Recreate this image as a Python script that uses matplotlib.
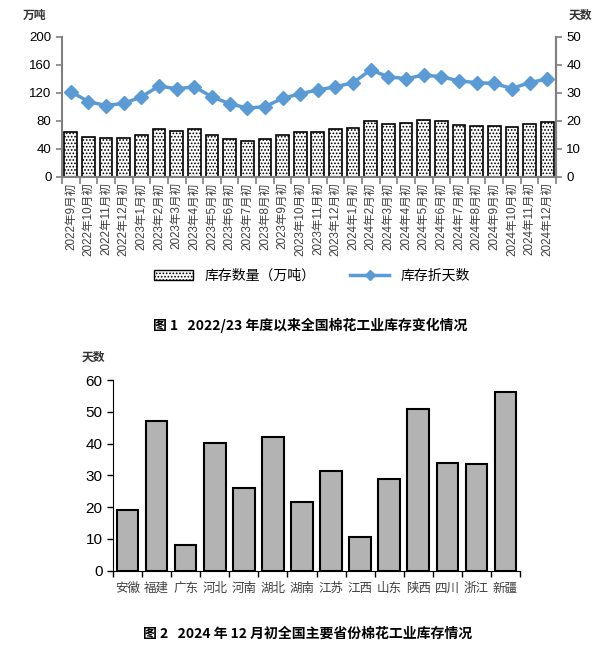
import matplotlib
matplotlib.use("Agg")
import matplotlib.pyplot as plt
from matplotlib.patches import Patch
from matplotlib.lines import Line2D
import numpy as np

plt.rcParams["font.family"] = ["Liberation Sans", "Noto Sans CJK SC", "DejaVu Sans"]
plt.rcParams["hatch.linewidth"] = 0.8

# chart 1 data
months = ["2022年9月初", "2022年10月初", "2022年11月初", "2022年12月初",
          "2023年1月初", "2023年2月初", "2023年3月初", "2023年4月初",
          "2023年5月初", "2023年6月初", "2023年7月初", "2023年8月初",
          "2023年9月初", "2023年10月初", "2023年11月初", "2023年12月初",
          "2024年1月初", "2024年2月初", "2024年3月初", "2024年4月初",
          "2024年5月初", "2024年6月初", "2024年7月初", "2024年8月初",
          "2024年9月初", "2024年10月初", "2024年11月初", "2024年12月初"]
stock = [64, 57, 55, 55, 59, 67.6, 65, 67.6, 59, 53.3, 51.4, 53.3, 60, 63.3,
         64.3, 67.6, 70, 79.5, 75, 77, 80.5, 79, 74.3, 73, 73, 70.5, 74.8, 77.6]
days = [30.4, 26.8, 25.4, 26.2, 28.5, 32.4, 31.4, 32.1, 28.5, 26.1, 24.5, 25, 28, 29.6,
        31, 32.1, 33.6, 38.1, 35.7, 35, 36.3, 35.7, 34.2, 33.6, 33.3, 31.5, 33.6, 34.9]

# chart 2 data
provinces = ["安徽", "福建", "广东", "河北", "河南", "湖北", "湖南",
             "江苏", "江西", "山东", "陕西", "四川", "浙江", "新疆"]
prov_days = [19.0, 47.0, 8.2, 40.1, 26.1, 42.0, 21.6, 31.3, 10.7, 28.7, 50.9, 33.9, 33.5, 56.1]

W, H = 607, 650
fig = plt.figure(figsize=(W / 100, H / 100), dpi=100)
cjk = ["Noto Sans CJK SC", "DejaVu Sans"]
blue = "#5B9BD5"
grey = "#808080"

# ---- chart 1 ----
ax = fig.add_axes([62 / W, 1 - 176.7 / H, 494 / W, 140 / H])
x = np.arange(len(months))
ax.bar(x, stock, width=0.72, color="white", edgecolor="black", hatch=".....", linewidth=1.2)
ax.set_ylim(0, 200)
ax.set_yticks(np.arange(0, 201, 40))
ax.set_xlim(-0.5, len(months) - 0.5)
ax.set_xticks(x)
ax.set_xticklabels(months, rotation=90, fontsize=8.4, color="#404040")
ax.tick_params(axis="x", which="major", length=0, pad=4)
ax.set_xticks(np.arange(-0.5, len(months), 1), minor=True)
ax.tick_params(axis="x", which="minor", length=5, color=grey, width=1.2)
ax.tick_params(axis="y", labelsize=9.5, length=4, color=grey, width=1.2)
for s in ["left", "bottom", "right"]:
    ax.spines[s].set_color(grey)
    ax.spines[s].set_linewidth(1.5)
ax.spines["top"].set_visible(False)

ax2 = ax.twinx()
ax2.plot(x, days, color=blue, lw=2.5, marker="D", markersize=7)
ax2.set_ylim(0, 50)
ax2.set_yticks(np.arange(0, 51, 10))
ax2.tick_params(axis="y", labelsize=9.5, length=4, color=grey, width=1.2)
for s in ["left", "bottom", "top"]:
    ax2.spines[s].set_visible(False)
ax2.spines["right"].set_color(grey)
ax2.spines["right"].set_linewidth(1.5)

fig.text(35 / W, 1 - 15 / H, "万吨", family=cjk, fontsize=8.5, fontweight="bold",
         ha="center", va="center", color="#333333")
fig.text(580 / W, 1 - 15 / H, "天数", family=cjk, fontsize=8.5, fontweight="bold",
         ha="center", va="center", color="#333333")

handles = [Patch(facecolor="white", edgecolor="black", hatch=".....", linewidth=1.0),
           Line2D([0], [0], color=blue, lw=2.5, marker="D", markersize=5)]
fig.legend(handles, ["库存数量（万吨）", "库存折天数"], loc="center",
           bbox_to_anchor=(312 / W, 1 - 276 / H), ncol=2, frameon=False,
           prop={"family": cjk, "size": 10}, columnspacing=2.5, handlelength=2.8)

fig.text(310 / W, 1 - 325 / H, "图 1   2022/23 年度以来全国棉花工业库存变化情况",
         family=cjk, fontsize=10, fontweight="bold", ha="center", va="center")

# ---- chart 2 ----
bx = fig.add_axes([113 / W, 1 - 570.7 / H, 407 / W, 190.7 / H])
px = np.arange(len(provinces))
bx.bar(px, prov_days, width=0.74, color="#B3B3B3", edgecolor="black", linewidth=1.5)
bx.set_ylim(0, 60)
bx.set_yticks(np.arange(0, 61, 10))
bx.set_xlim(-0.5, len(provinces) - 0.5)
bx.set_xticks(px)
bx.set_xticklabels(provinces, family=cjk, fontsize=9, color="#404040")
bx.tick_params(axis="x", which="major", length=0, pad=8)
bx.set_xticks(np.arange(-0.5, len(provinces), 1), minor=True)
bx.tick_params(axis="x", which="minor", length=4, width=1)
bx.tick_params(axis="y", labelsize=11, length=4, width=1)
bx.spines["top"].set_visible(False)
bx.spines["right"].set_visible(False)

fig.text(93 / W, 1 - 357 / H, "天数", family=cjk, fontsize=8.5, fontweight="bold",
         ha="center", va="center", color="#333333")
fig.text(308 / W, 1 - 634 / H, "图 2   2024 年 12 月初全国主要省份棉花工业库存情况",
         family=cjk, fontsize=10, fontweight="bold", ha="center", va="center")

fig.savefig("out.png", dpi=100)
